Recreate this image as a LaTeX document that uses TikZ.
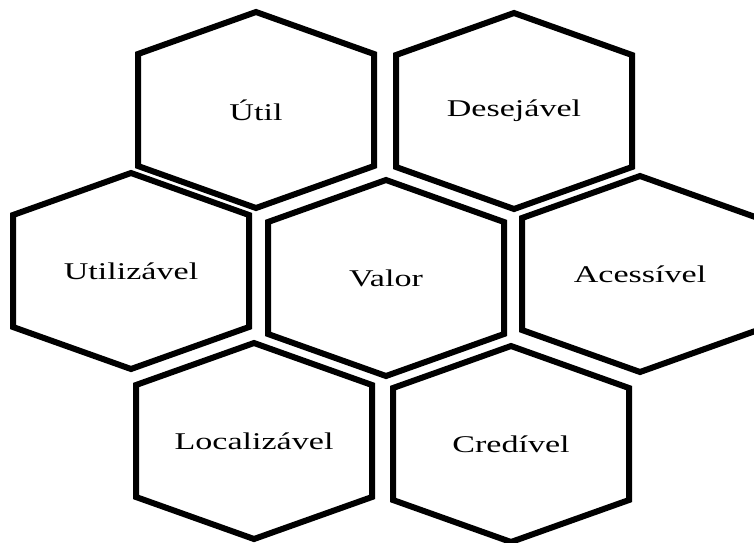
\documentclass[tikz,border=0pt]{standalone}
\usepackage{fontspec}
\setmainfont{Liberation Serif}

\tikzset{
  favo/.style={line width=6pt, line join=miter},
  rotulo/.style={font=\fontsize{24}{28}\selectfont, xscale=1.42, transform shape, inner sep=0pt}
}

% hexagon cell: centre x, centre y, node name, text
\newcommand{\favo}[4]{%
  \draw[favo] (#1,#2-98) -- (#1+118,#2-56) -- (#1+118,#2+56) -- (#1,#2+98)
    -- (#1-118,#2+56) -- (#1-118,#2-56) -- cycle;
  \node[rotulo] (#3) at (#1,#2) {#4};
}

\begin{document}
\begin{tikzpicture}[x=1pt,y=-1pt]
\useasboundingbox (0,0) rectangle (754,542);
\clip (0,0) rectangle (754,542);

\favo{256}{110}{util}{Útil}
\favo{514}{111}{desejavel}{Desejável}
\favo{131}{271}{utilizavel}{Utilizável}
\favo{386}{278}{valor}{Valor}
\favo{640}{274}{acessivel}{Acessível}
\favo{254}{441}{localizavel}{Localizável}
\favo{511}{444}{credivel}{Credível}
\end{tikzpicture}
\end{document}
